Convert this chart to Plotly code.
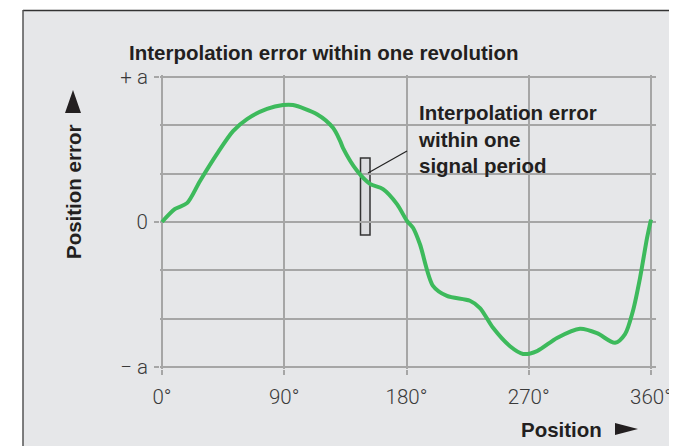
import plotly.graph_objects as go

# position in degrees and position error (in units of a)
position_deg = [0, 9.6, 18.4, 28.0, 40.5, 52.3, 62.6, 77.3, 89.1, 96.4, 114.1, 125.9,
                131.1, 133.3, 143.6, 153.1, 162.7, 173.0, 180.4, 184.8, 189.9, 199.5,
                209.8, 226.7, 234.1, 243.7, 256.2, 265.8, 276.1, 290.8, 307.7, 320.2,
                333.5, 340.9, 346.7, 351.9, 357.1, 360]
position_error = [0, 0.27, 0.39, 0.85, 1.41, 1.88, 2.13, 2.34, 2.42, 2.42, 2.23, 1.95,
                  1.68, 1.53, 1.06, 0.79, 0.68, 0.37, 0.02, -0.12, -0.46, -1.32,
                  -1.53, -1.63, -1.78, -2.19, -2.57, -2.73, -2.67, -2.40, -2.21, -2.30,
                  -2.50, -2.32, -1.84, -1.16, -0.33, 0.05]

x_ticks = [0, 90, 180, 270, 360]
x_labels = ["0°", "90°", "180°", "270°", "360°"]
y_ticks = [-3, 0, 3]
y_labels = ["− a", "0", "+ a"]

# page has an 8px body margin; everything below is in page pixels
OFF = 8
FIG_W, FIG_H = 677 - OFF, 446 - OFF
L, T, W, H = 160, 75, 496, 294
X0, XPX = 162, 489 / 360      # 0 deg position, px per degree
Y0, YPX = 222, 290 / 6        # 0 position, px per unit


def px(x):
    return (x - L) / W


def py(y):
    return (T + H - y) / H


PANEL = "#e6e7e9"
GRID = "#a6a6a6"
INK = "#231f20"
BOLD = dict(family="Liberation Sans, Arial, sans-serif", size=20.5, color=INK, weight="bold")
LIGHT = dict(family="Roboto, Liberation Sans, sans-serif", size=20.5, color="#3a3a3a", weight=300)

fig = go.Figure()

fig.add_trace(go.Scatter(
    x=position_deg,
    y=position_error,
    mode="lines",
    line=dict(color="#3dba5c", width=4, shape="spline", smoothing=0.8),
    showlegend=False,
    hoverinfo="skip"
))

shapes = [
    # grey panel with border
    dict(type="rect", xref="paper", yref="paper", x0=px(23), x1=px(700), y0=py(10), y1=py(470),
         fillcolor=PANEL, line_width=0, layer="below"),
    dict(type="line", xref="paper", yref="paper", x0=px(23), x1=px(700), y0=py(10.5), y1=py(10.5),
         line=dict(color="#333333", width=1.5), layer="below"),
    dict(type="line", xref="paper", yref="paper", x0=px(23), x1=px(23), y0=py(10), y1=py(470),
         line=dict(color="#555555", width=1.5), layer="below"),
    # background behind the annotation text
    dict(type="rect", xref="paper", yref="paper", x0=px(404), x1=px(641), y0=py(101), y1=py(178),
         fillcolor=PANEL, line_width=0, layer="between"),
    # signal period box
    dict(type="rect", xref="paper", yref="paper", x0=px(360.5), x1=px(370), y0=py(158), y1=py(235),
         fillcolor="#dcdde0", line=dict(color="#333333", width=1.5), layer="between"),
    dict(type="line", xref="paper", yref="paper", x0=px(368), x1=px(407), y0=py(173), y1=py(151),
         line=dict(color="#222222", width=1.2)),
    # arrows
    dict(type="path", xref="paper", yref="paper",
         path=f"M {px(65)},{py(113)} L {px(81)},{py(113)} L {px(73)},{py(90)} Z",
         fillcolor=INK, line_width=0),
    dict(type="path", xref="paper", yref="paper",
         path=f"M {px(615)},{py(423)} L {px(615)},{py(435)} L {px(638)},{py(429)} Z",
         fillcolor=INK, line_width=0),
]

annotations = [
    dict(text="Interpolation error within one revolution", x=px(127), y=py(52),
         xanchor="left", yanchor="middle"),
    dict(text="Interpolation error<br>within one<br>signal period", x=px(416), y=py(139),
         xanchor="left", yanchor="middle", align="left"),
    dict(text="Position error", x=px(73), y=py(192), textangle=-90,
         xanchor="center", yanchor="middle"),
    dict(text="Position", x=px(561), y=py(430), xanchor="center", yanchor="middle"),
]
for a in annotations:
    a.update(xref="paper", yref="paper", showarrow=False, font=BOLD)

fig.update_layout(
    width=FIG_W,
    height=FIG_H,
    margin=dict(l=L - OFF, r=FIG_W - (L - OFF) - W, t=T - OFF, b=FIG_H - (T - OFF) - H,
                autoexpand=False),
    paper_bgcolor="white",
    plot_bgcolor="rgba(0,0,0,0)",
    shapes=shapes,
    annotations=annotations,
    font=dict(family="Liberation Sans, Arial, sans-serif", color="#333333"),
)

fig.update_xaxes(
    range=[(L - X0) / XPX, (L + W - X0) / XPX],
    tickvals=x_ticks,
    ticktext=x_labels,
    automargin=False,
    showgrid=True,
    gridcolor=GRID,
    gridwidth=1.5,
    zeroline=False,
    showline=False,
    ticks="outside",
    ticklen=5,
    tickwidth=1.5,
    tickcolor=GRID,
    ticklabelstandoff=4,
    tickfont=LIGHT,
)

fig.update_yaxes(
    range=[(Y0 - (T + H)) / YPX, (Y0 - T) / YPX],
    tickvals=y_ticks,
    ticktext=y_labels,
    automargin=False,
    showgrid=True,
    gridcolor=GRID,
    gridwidth=1.5,
    zeroline=False,
    showline=False,
    ticks="outside",
    ticklen=5,
    tickwidth=1.5,
    tickcolor=GRID,
    ticklabelstandoff=2,
    tickfont=LIGHT,
    minor=dict(tickmode="linear", tick0=0, dtick=1, showgrid=True, gridcolor=GRID, gridwidth=1.5, ticks=""),
)

fig.write_html("out.html")
